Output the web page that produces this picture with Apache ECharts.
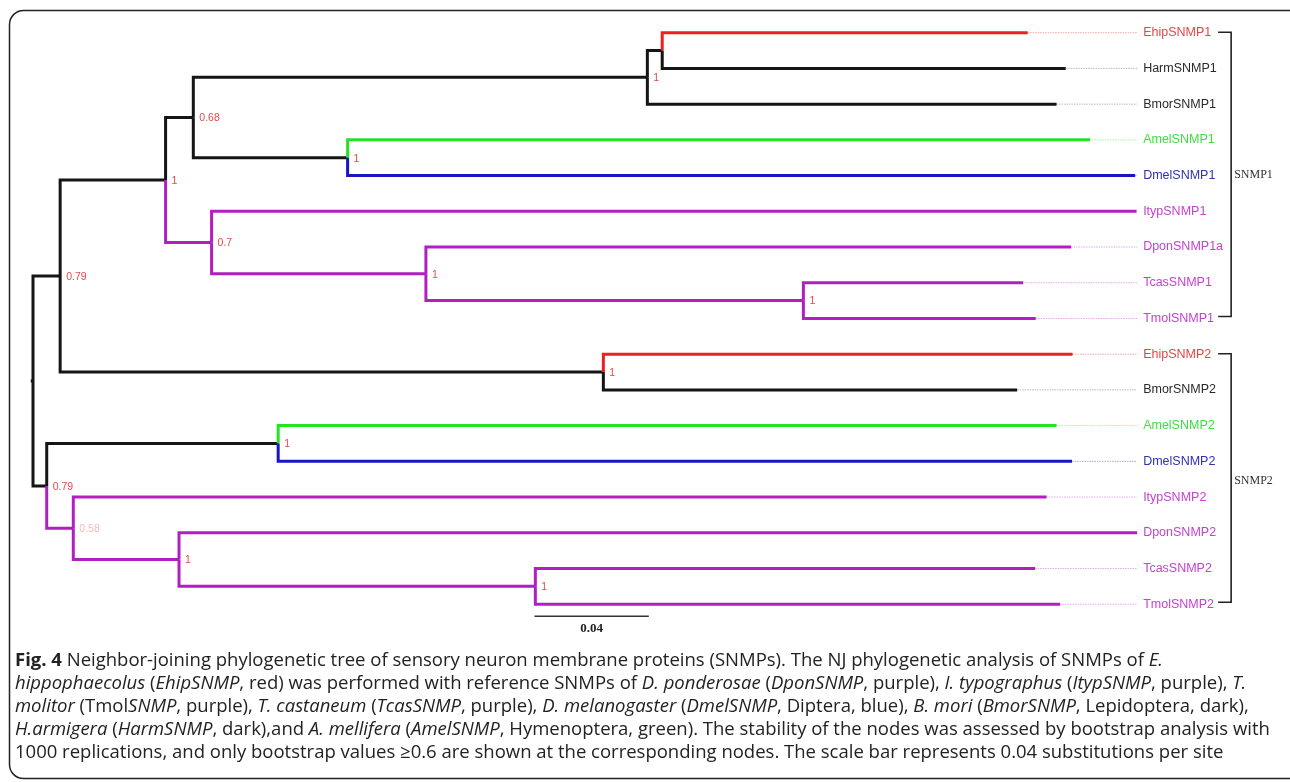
<!DOCTYPE html>
<html>
<head>
<meta charset="utf-8">
<script src="https://cdn.jsdelivr.net/npm/echarts@6/dist/echarts.min.js"></script>
<style>
  html, body { margin: 0; padding: 0; background: #ffffff; }
  #chart { width: 1290px; height: 782px; }
</style>
</head>
<body>
<div id="chart"></div>
<script>
// Leaves, top to bottom, with their distance from the root (substitutions per site)
const leafNames = ['EhipSNMP1', 'HarmSNMP1', 'BmorSNMP1', 'AmelSNMP1', 'DmelSNMP1', 'ItypSNMP1', 'DponSNMP1a', 'TcasSNMP1', 'TmolSNMP1',
                   'EhipSNMP2', 'BmorSNMP2', 'AmelSNMP2', 'DmelSNMP2', 'ItypSNMP2', 'DponSNMP2', 'TcasSNMP2', 'TmolSNMP2'];
const leafGroups = ['Ehip', 'Lep', 'Lep', 'Hym', 'Dip', 'Col', 'Col', 'Col', 'Col',
                    'Ehip', 'Lep', 'Hym', 'Dip', 'Col', 'Col', 'Col', 'Col'];
const leafDepths = [0.3481, 0.3614, 0.3582, 0.3699, 0.3857, 0.3862, 0.3633, 0.3465, 0.3509,
                    0.3638, 0.3444, 0.3582, 0.3636, 0.3547, 0.3864, 0.3507, 0.3594];
const leafParents = ['G', 'G', 'E', 'F', 'F', 'D', 'H', 'I', 'I', 'P', 'P', 'K', 'K', 'L', 'M', 'N', 'N'];

// Internal nodes: depth from the root and bootstrap support
const nodeIds     = ['R', 'A', 'B', 'C', 'E', 'G', 'F', 'D', 'H', 'I', 'P', 'J', 'K', 'L', 'M', 'N'];
const nodeDepths  = [0, 0.0095, 0.0464, 0.0561, 0.2150, 0.2202, 0.1101, 0.0625, 0.1375, 0.2696, 0.1996, 0.0048, 0.0858, 0.0141, 0.0511, 0.1758];
const nodeParents = [null, 'R', 'A', 'B', 'C', 'E', 'C', 'B', 'D', 'H', 'A', 'R', 'J', 'J', 'L', 'M'];
const nodeSupport = [null, 0.79, 1, 0.68, 1, null, 1, 0.7, 1, 1, 1, 0.79, 1, 0.58, 1, 1];
const rootStub = 0.0008;

// Clade brackets (first and last leaf index)
const cladeNames = ['SNMP1', 'SNMP2'];
const cladeFirst = [0, 9];
const cladeLast  = [8, 16];

// Scale bar
const scaleBarStart = 0.1755;
const scaleBarLength = 0.04;
const scaleBarLabel = '0.04';

// Caption
const captionLines = [
  '{b|Fig. 4} Neighbor-joining phylogenetic tree of sensory neuron membrane proteins (SNMPs). The NJ phylogenetic analysis of SNMPs of {i|E.}',
  '{i|hippophaecolus} ({i|EhipSNMP}, red) was performed with reference SNMPs of {i|D. ponderosae} ({i|DponSNMP}, purple), {i|I. typographus} ({i|ItypSNMP}, purple), {i|T.}',
  '{i|molitor} (Tmol{i|SNMP}, purple), {i|T. castaneum} ({i|TcasSNMP}, purple), {i|D. melanogaster} ({i|DmelSNMP}, Diptera, blue), {i|B. mori} ({i|BmorSNMP}, Lepidoptera, dark),',
  '{i|H.armigera} ({i|HarmSNMP}, dark),and {i|A. mellifera} ({i|AmelSNMP}, Hymenoptera, green). The stability of the nodes was assessed by bootstrap analysis with',
  '1000 replications, and only bootstrap values ≥0.6 are shown at the corresponding nodes. The scale bar represents 0.04 substitutions per site'
];

// ---- styles ----
const groupOrder = ['Ehip', 'Lep', 'Hym', 'Dip', 'Col', 'mixed'];
const branchColor = { Ehip: '#ee1f1f', Lep: '#151515', Hym: '#22e422', Dip: '#1616c8', Col: '#b21ec2', mixed: '#151515' };
const leaderColor = { Ehip: '#f2a6a6', Lep: '#b8b8b8', Hym: '#a8f0a8', Dip: '#a8a8e6', Col: '#e4a8ec', mixed: '#b8b8b8' };
const textColor   = { Ehip: '#e84444', Lep: '#2a2a2a', Hym: '#3ede3e', Dip: '#3030b4', Col: '#c442d0', mixed: '#2a2a2a' };

// ---- tree layout ----
const nodeIndex = {};
nodeIds.forEach((id, i) => { nodeIndex[id] = i; });
const children = {};
nodeIds.forEach(id => { children[id] = []; });
leafNames.forEach((n, i) => children[leafParents[i]].push({ leaf: true, idx: i }));
nodeIds.forEach((id, i) => { if (nodeParents[i]) children[nodeParents[i]].push({ leaf: false, idx: i }); });

const nodeY = {};
const nodeGroup = {};
function layout(id) {
  const ys = [];
  const groups = new Set();
  children[id].forEach(c => {
    if (c.leaf) { ys.push(c.idx); groups.add(leafGroups[c.idx]); }
    else {
      layout(nodeIds[c.idx]);
      ys.push(nodeY[nodeIds[c.idx]]);
      groups.add(nodeGroup[nodeIds[c.idx]]);
    }
  });
  nodeY[id] = (Math.min(...ys) + Math.max(...ys)) / 2;
  nodeGroup[id] = groups.size === 1 ? [...groups][0] : 'mixed';
}
layout('R');

// Edges: [parentDepth, parentY, childDepth, childY, groupIndex]
const edges = [];
leafNames.forEach((n, i) => {
  const p = leafParents[i];
  edges.push([nodeDepths[nodeIndex[p]], nodeY[p], leafDepths[i], i, groupOrder.indexOf(leafGroups[i])]);
});
nodeIds.forEach((id, i) => {
  const p = nodeParents[i];
  if (p) edges.push([nodeDepths[nodeIndex[p]], nodeY[p], nodeDepths[i], nodeY[id], groupOrder.indexOf(nodeGroup[id])]);
});
edges.push([-rootStub, nodeY['R'], 0, nodeY['R'], groupOrder.indexOf('mixed')]);
// draw black branches first, coloured ones on top
edges.sort((a, b) => (a[4] === 1 || a[4] === 5 ? 0 : 1) - (b[4] === 1 || b[4] === 5 ? 0 : 1));

const alignX = Math.max(...leafDepths);

const supportData = [];
nodeIds.forEach((id, i) => {
  if (nodeSupport[i] !== null) supportData.push([nodeDepths[i], nodeY[id], nodeSupport[i]]);
});

const chart = echarts.init(document.getElementById('chart'), null, { renderer: 'canvas' });

const captionFont = '"Open Sans", "Noto Sans", sans-serif';
const captionSize = 18.5;
const captionY0 = 661;
const captionStep = 23;

const option = {
  animation: false,
  backgroundColor: '#ffffff',
  grid: { left: 33, top: 32.7, width: 1143, height: 607.24 },
  xAxis: { type: 'value', min: 0, max: 0.4, show: false },
  yAxis: { type: 'value', min: 0, max: 17, inverse: true, show: false },
  series: [
    {
      // leader lines from each tip to the label column
      type: 'custom',
      silent: true,
      data: leafDepths.map((d, i) => [d, i, groupOrder.indexOf(leafGroups[i])]),
      encode: { x: 0, y: 1 },
      renderItem: (params, api) => {
        const p1 = api.coord([api.value(0), api.value(1)]);
        const p2 = api.coord([alignX, api.value(1)]);
        const g = groupOrder[api.value(2)];
        return {
          type: 'line',
          shape: { x1: p1[0], y1: p1[1], x2: p2[0], y2: p2[1] },
          style: { stroke: leaderColor[g], lineWidth: 1, lineDash: [1.5, 1] }
        };
      }
    },
    {
      // tree branches
      type: 'custom',
      silent: true,
      clip: false,
      data: edges,
      encode: { x: [0, 2], y: [1, 3] },
      renderItem: (params, api) => {
        const p1 = api.coord([api.value(0), api.value(1)]);
        const p2 = api.coord([api.value(2), api.value(3)]);
        const g = groupOrder[api.value(4)];
        return {
          type: 'polyline',
          shape: { points: [[p1[0], p1[1]], [p1[0], p2[1]], [p2[0], p2[1]]] },
          style: { stroke: branchColor[g], lineWidth: 3, fill: null, lineJoin: 'miter', lineCap: 'butt' }
        };
      }
    },
    {
      // tip labels
      type: 'custom',
      silent: true,
      data: leafNames.map((n, i) => [alignX, i, groupOrder.indexOf(leafGroups[i])]),
      encode: { x: 0, y: 1 },
      renderItem: (params, api) => {
        const p = api.coord([api.value(0), api.value(1)]);
        const g = groupOrder[api.value(2)];
        return {
          type: 'text',
          x: p[0] + 6, y: p[1],
          style: {
            text: leafNames[params.dataIndex],
            fill: textColor[g],
            font: '12.5px "Liberation Sans", Arial, sans-serif',
            verticalAlign: 'middle', align: 'left'
          }
        };
      }
    },
    {
      // bootstrap values
      type: 'custom',
      silent: true,
      data: supportData,
      encode: { x: 0, y: 1 },
      renderItem: (params, api) => {
        const p = api.coord([api.value(0), api.value(1)]);
        const v = api.value(2);
        return {
          type: 'text',
          x: p[0] + 6, y: p[1] + 1,
          style: {
            text: String(v),
            fill: v < 0.6 ? '#f2bcbc' : '#e24a4a',
            font: '10.5px "Liberation Sans", Arial, sans-serif',
            verticalAlign: 'middle', align: 'left'
          }
        };
      }
    },
    {
      // clade brackets
      type: 'custom',
      silent: true,
      data: cladeNames.map((n, i) => [alignX, cladeFirst[i], cladeLast[i]]),
      encode: { x: 0, y: [1, 2] },
      renderItem: (params, api) => {
        const top = api.coord([api.value(0), api.value(1)]);
        const bot = api.coord([api.value(0), api.value(2)]);
        const bx = top[0] + 94;
        const y1 = top[1] - 0.5, y2 = bot[1] - 2;
        return {
          type: 'group',
          children: [
            {
              type: 'polyline',
              shape: { points: [[bx - 13, y1], [bx, y1], [bx, y2], [bx - 13, y2]] },
              style: { stroke: '#222', lineWidth: 1.6, fill: null }
            },
            {
              type: 'text',
              x: bx + 3, y: (y1 + y2) / 2 + (params.dataIndex === 0 ? 1 : 3),
              style: {
                text: cladeNames[params.dataIndex],
                fill: '#333',
                font: '12px "Liberation Serif", "Times New Roman", serif',
                verticalAlign: 'middle', align: 'left'
              }
            }
          ]
        };
      }
    },
    {
      // scale bar
      type: 'custom',
      silent: true,
      data: [[scaleBarStart, leafNames.length - 1]],
      encode: { x: 0, y: 1 },
      renderItem: (params, api) => {
        const p1 = api.coord([api.value(0), api.value(1)]);
        const p2 = api.coord([api.value(0) + scaleBarLength, api.value(1)]);
        const y = p1[1] + 12;
        return {
          type: 'group',
          children: [
            {
              type: 'line',
              shape: { x1: p1[0], y1: y, x2: p2[0], y2: y },
              style: { stroke: '#333', lineWidth: 1.5 }
            },
            {
              type: 'text',
              x: (p1[0] + p2[0]) / 2, y: y + 12,
              style: {
                text: scaleBarLabel, fill: '#222',
                font: 'bold 13px "Liberation Serif", "Times New Roman", serif',
                align: 'center', verticalAlign: 'middle'
              }
            }
          ]
        };
      }
    }
  ],
  graphic: [
    {
      type: 'rect',
      silent: true,
      shape: { x: 9.5, y: 10.5, width: 1300, height: 768, r: 14 },
      style: { fill: null, stroke: '#222', lineWidth: 1.5 }
    }
  ].concat(captionLines.map((line, i) => ({
    type: 'text',
    silent: true,
    x: 15, y: captionY0 + i * captionStep,
    style: {
      text: line,
      fill: '#222',
      font: captionSize + 'px ' + captionFont,
      verticalAlign: 'middle', align: 'left',
      rich: {
        b: { fontWeight: 'bold', fontSize: captionSize, fontFamily: captionFont, fill: '#222' },
        i: { fontStyle: 'italic', fontSize: captionSize, fontFamily: captionFont, fill: '#222' }
      }
    }
  })))
};

chart.setOption(option);
</script>
</body>
</html>
